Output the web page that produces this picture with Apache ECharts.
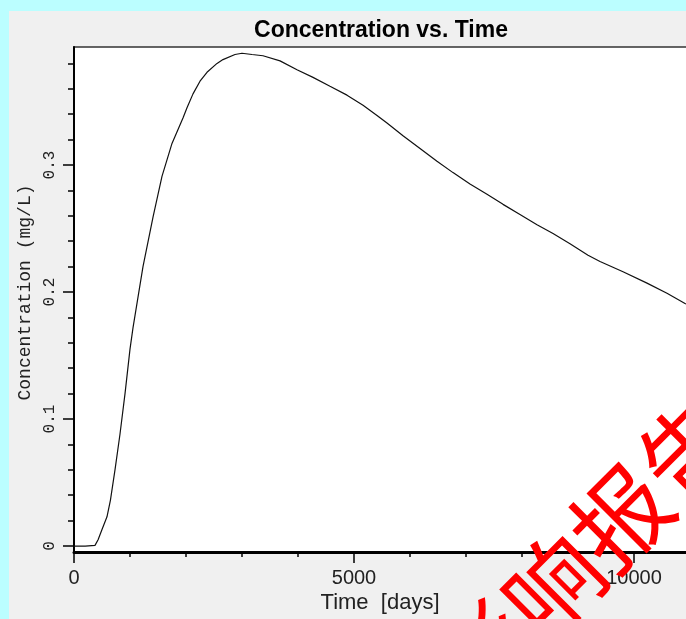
<!DOCTYPE html>
<html>
<head>
<meta charset="utf-8">
<script src="https://cdn.jsdelivr.net/npm/echarts@6/dist/echarts.min.js"></script>
<style>
  html, body { margin: 0; padding: 0; background: #bbfeff; }
  #main { width: 686px; height: 619px; }
</style>
</head>
<body>
<div id="main"></div>
<script>
// concentration curve
var times = [0, 200, 375, 430, 500, 589, 650, 732, 821, 911, 1000, 1054, 1232, 1411, 1571, 1750,
  1946, 2018, 2125, 2250, 2375, 2554, 2660, 2875, 3000, 3179, 3375, 3679, 3982, 4268, 4571,
  4875, 5161, 5411, 5589, 5875, 6179, 6482, 6768, 7071, 7375, 7661, 7964, 8268, 8554, 8857,
  9179, 9393, 9804, 10232, 10589, 10911, 11100]
var concs = [0, 0, 0.0005, 0.005, 0.013, 0.023, 0.036, 0.060, 0.088, 0.120, 0.155, 0.172, 0.220,
  0.259, 0.291, 0.317, 0.337, 0.345, 0.356, 0.366, 0.373, 0.380, 0.383, 0.387, 0.388, 0.387,
  0.386, 0.382, 0.375, 0.369, 0.362, 0.355, 0.347, 0.339, 0.333, 0.323, 0.313, 0.303, 0.294,
  0.285, 0.277, 0.269, 0.261, 0.253, 0.246, 0.238, 0.229, 0.224, 0.216, 0.207, 0.199, 0.191, 0.187]
var yMajor = [0, 0.1, 0.2, 0.3]
var yMinor = [0.02, 0.04, 0.06, 0.08, 0.12, 0.14, 0.16, 0.18, 0.22, 0.24, 0.26, 0.28, 0.32, 0.34, 0.36, 0.38]

var points = []
for (var i = 0; i < times.length; i++) {
  points.push([times[i], concs[i]])
}

var chart = echarts.init(document.getElementById('main'))
chart.setOption({
  backgroundColor: '#bbfeff',
  animation: false,
  grid: {
    left: 74, top: 47, right: -60, bottom: 67,
    outerBoundsMode: 'none', containLabel: false,
    show: true, backgroundColor: '#fff', borderColor: '#333', borderWidth: 1.5
  },
  xAxis: {
    type: 'value', min: 0, max: 12000, interval: 5000,
    axisLine: { show: true, onZero: false, lineStyle: { color: '#000', width: 3 } },
    axisTick: { show: true, length: 11, lineStyle: { color: '#000', width: 1.5 } },
    minorTick: { show: true, splitNumber: 5, length: 5, lineStyle: { color: '#000', width: 1.5 } },
    splitLine: { show: false },
    axisLabel: {
      margin: 16, color: '#222', fontSize: 20, fontFamily: 'Liberation Sans', showMaxLabel: false,
      formatter: function (v) { return String(v) }
    }
  },
  yAxis: [{
    type: 'value', min: -0.0047, max: 0.3929,
    axisLine: { show: true, onZero: false, lineStyle: { color: '#000', width: 2 } },
    axisTick: { show: true, length: 11, customValues: yMajor, lineStyle: { color: '#000', width: 1.5 } },
    axisLabel: { customValues: yMajor, rotate: 90, margin: 16, color: '#222', fontSize: 16, fontFamily: 'Liberation Mono' },
    splitLine: { show: false },
    name: 'Concentration (mg/L)', nameLocation: 'middle', nameRotate: 90, nameGap: 40,
    nameTextStyle: { color: '#222', fontSize: 18, fontFamily: 'Liberation Mono', padding: [0, 0, 0, 14] }
  }, {
    type: 'value', min: -0.0047, max: 0.3929, position: 'left',
    axisLine: { show: false },
    axisTick: { show: true, length: 6, customValues: yMinor, lineStyle: { color: '#000', width: 1.5 } },
    axisLabel: { show: false },
    splitLine: { show: false }
  }],
  graphic: [
    { type: 'rect', left: 9, top: 11, z: -10, shape: { width: 700, height: 620 }, style: { fill: '#f0f0f0' } },
    { type: 'text', x: 381, y: 31, z: 10,
      style: { text: 'Concentration vs. Time', fill: '#000', font: 'bold 23px "Liberation Sans"', textAlign: 'center', textVerticalAlign: 'middle' } },
    { type: 'text', x: 380, y: 603, z: 10,
      style: { text: 'Time  [days]', fill: '#222', font: '22px "Liberation Sans"', textAlign: 'center', textVerticalAlign: 'middle' } },
    { type: 'text', x: 451, y: 687, rotation: Math.PI / 4, z: 100,
      style: { text: '影响报告书', fill: '#ff0000', font: '96px "Noto Sans CJK SC"', textAlign: 'left', textVerticalAlign: 'middle' } }
  ],
  series: [{
    type: 'line', data: points, showSymbol: false, smooth: false,
    lineStyle: { color: '#111', width: 1.2 }
  }]
})
</script>
</body>
</html>
